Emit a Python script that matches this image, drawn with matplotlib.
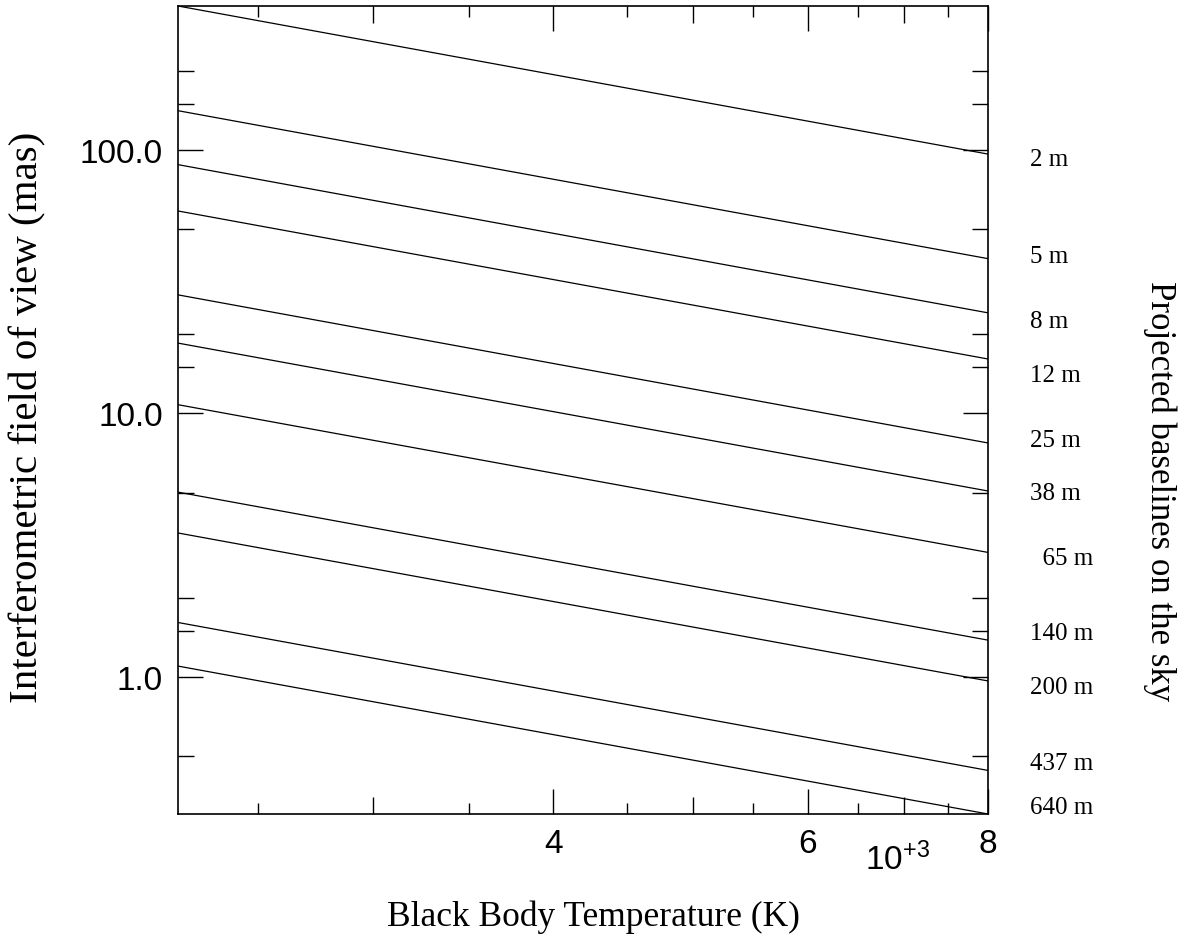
import matplotlib
matplotlib.use("Agg")
from matplotlib import pyplot
from matplotlib.ticker import FixedLocator, NullLocator, NullFormatter

# temperature range, in units of 10^3 K
temp_range = [2.2, 8.0]

# projected baselines and the field of view (mas) at both ends of the range
baselines = ["2 m", "5 m", "8 m", "12 m", "25 m", "38 m",
             "  65 m", "140 m", "200 m", "437 m", "640 m"]
fov_cold = [352, 141, 88.0, 58.7, 28.2, 18.5, 10.8, 5.03, 3.52, 1.61, 1.10]
fov_hot = [96.5, 38.7, 24.1, 16.1, 7.73, 5.08, 2.97, 1.38, 0.966, 0.442, 0.302]
# where the baseline names sit on the right (mas)
label_fov = [92.4, 39.5, 22.4, 14.0, 7.96, 5.01, 2.84, 1.47, 0.917, 0.471, 0.321]

x_major = [4, 6, 8]
x_mid = [3, 5, 7]
x_minor = [2.5, 3.5, 4.5, 5.5, 6.5, 7.5]
y_major = [1, 10, 100]
y_labels = ["1.0", "10.0", "100.0"]
y_minor = [0.5, 1.5, 2, 5, 15, 20, 50, 150, 200]

serif = "Liberation Serif"
sans = "Liberation Sans"

fig = pyplot.figure(figsize=(11.79, 9.53), dpi=100)
ax = fig.add_axes([178 / 1179, 1 - 815 / 953, 810 / 1179, 808 / 953])

for lo, hi in zip(fov_cold, fov_hot):
    ax.plot(temp_range, [lo, hi], color="black", linewidth=0.9)

ax.set_xscale("log")
ax.set_yscale("log")
ax.set_xlim(temp_range)
ax.set_ylim(min(fov_hot), max(fov_cold))

ax.xaxis.set_major_locator(FixedLocator(x_major))
ax.xaxis.set_minor_locator(FixedLocator(x_minor))
ax.set_xticklabels([str(v) for v in x_major])
ax.xaxis.set_minor_formatter(NullFormatter())
ax.yaxis.set_major_locator(FixedLocator(y_major))
ax.yaxis.set_minor_locator(FixedLocator(y_minor))
ax.set_yticklabels(y_labels)
ax.yaxis.set_minor_formatter(NullFormatter())

ax.tick_params(which="both", direction="in", top=True, right=True,
               width=1.0, color="black")
ax.tick_params(which="major", length=18)
ax.tick_params(which="minor", length=8)
ax.tick_params(axis="y", which="minor", length=11.5)
ax.tick_params(axis="x", which="major", pad=10, labelsize=24)
ax.tick_params(axis="y", which="major", pad=11, labelsize=24)
for lab in ax.get_xticklabels() + ax.get_yticklabels():
    lab.set_fontfamily(sans)
for sp in ax.spines.values():
    sp.set_linewidth(1.2)

# medium ticks on the integer thousands
for loc in ["bottom", "top"]:
    sec = ax.secondary_xaxis(loc, functions=(lambda v: v, lambda v: v))
    sec.xaxis.set_major_locator(FixedLocator(x_mid))
    sec.xaxis.set_minor_locator(NullLocator())
    sec.xaxis.set_major_formatter(NullFormatter())
    sec.tick_params(direction="in", length=12, width=1.0, color="black")
    sec.spines[loc].set_visible(False)

for name, yv in zip(baselines, label_fov):
    ax.text(1.052, yv, name, transform=ax.get_yaxis_transform(),
            ha="left", va="center", fontsize=18, family=serif)

fig.text(865 / 1179, 1 - 860 / 953, r"$\mathregular{10^{+3}}$",
         ha="left", va="center", fontsize=24, family=sans)

fig.text(593 / 1179, 1 - 917 / 953, "Black Body Temperature (K)",
         ha="center", va="center", fontsize=25.5, family=serif)
fig.text(28 / 1179, 1 - 417 / 953, "Interferometric field of view (mas)",
         ha="center", va="center", rotation=90, fontsize=29.5, family=serif)
fig.text(1160 / 1179, 1 - 491 / 953, "Projected baselines on the sky",
         ha="center", va="center", rotation=270, fontsize=25, family=serif)

pyplot.savefig("out.png", dpi=100)
